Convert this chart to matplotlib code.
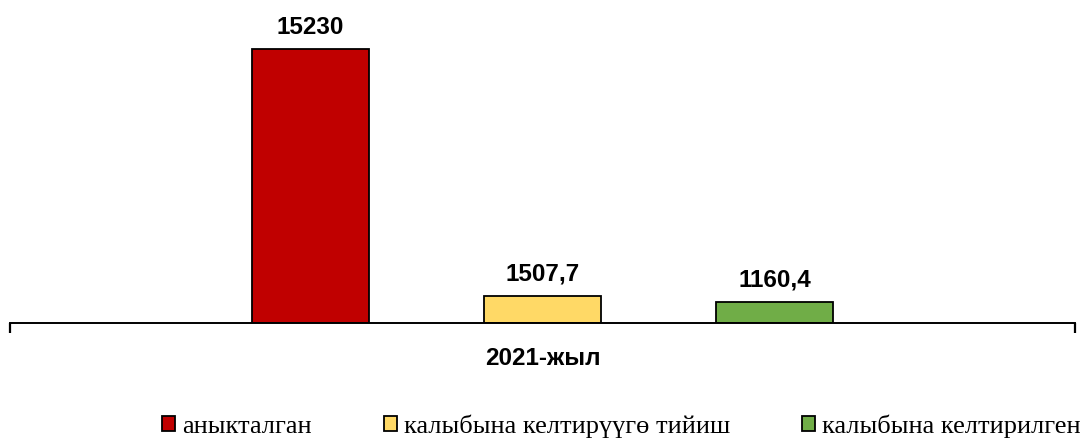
import matplotlib
matplotlib.use('Agg')
import matplotlib.pyplot as plt
from matplotlib.patches import Patch

# data
series = ['аныкталган', 'калыбына келтирүүгө тийиш', 'калыбына келтирилген']
values = [15230, 1507.7, 1160.4]
labels = ['15230', '1507,7', '1160,4']
category = '2021-жыл'
colors = ['#C00000', '#FFD966', '#70AD47']

bold_font = ['Liberation Sans Narrow', 'Liberation Sans', 'DejaVu Sans']
serif_font = ['Liberation Serif', 'DejaVu Serif']

fig = plt.figure(figsize=(10.85, 4.41), dpi=100)
ax = fig.add_axes([10 / 1085, 1 - 323 / 441, 1065 / 1085, 323 / 441])

xpos = [-1, 0, 1]
bars = ax.bar(xpos, values, width=0.504, color=colors, edgecolor='black', linewidth=1.3)

for b, lab in zip(bars, labels):
    ax.annotate(lab, (b.get_x() + b.get_width() / 2, b.get_height()),
                xytext=(0, 11), textcoords='offset points',
                ha='center', va='baseline', fontsize=17.5, fontweight='bold',
                family=bold_font)

ax.set_xlim(-2.295, 2.295)
ax.set_ylim(0, 17954)

for s in ['left', 'top', 'right']:
    ax.spines[s].set_visible(False)
ax.spines['bottom'].set_linewidth(1.4)
ax.set_yticks([])

ax.set_xticks([0])
ax.set_xticklabels([category], fontsize=17.5, fontweight='bold', family=bold_font)
ax.tick_params(axis='x', which='major', length=0, pad=17)
ax.set_xticks([-2.295, 2.295], minor=True)
ax.tick_params(axis='x', which='minor', length=7, width=1.6, direction='out')

handles = [Patch(facecolor=c, edgecolor='black', linewidth=1.3) for c in colors]
fig.legend(handles, series, loc='center left', bbox_to_anchor=(162 / 1085, 0.034),
           ncol=3, frameon=False, borderpad=0, borderaxespad=0,
           handlelength=0.49, handleheight=0.49, handletextpad=0.27,
           columnspacing=2.73, prop={'family': serif_font, 'size': 19})

fig.savefig('out.png', dpi=100)
